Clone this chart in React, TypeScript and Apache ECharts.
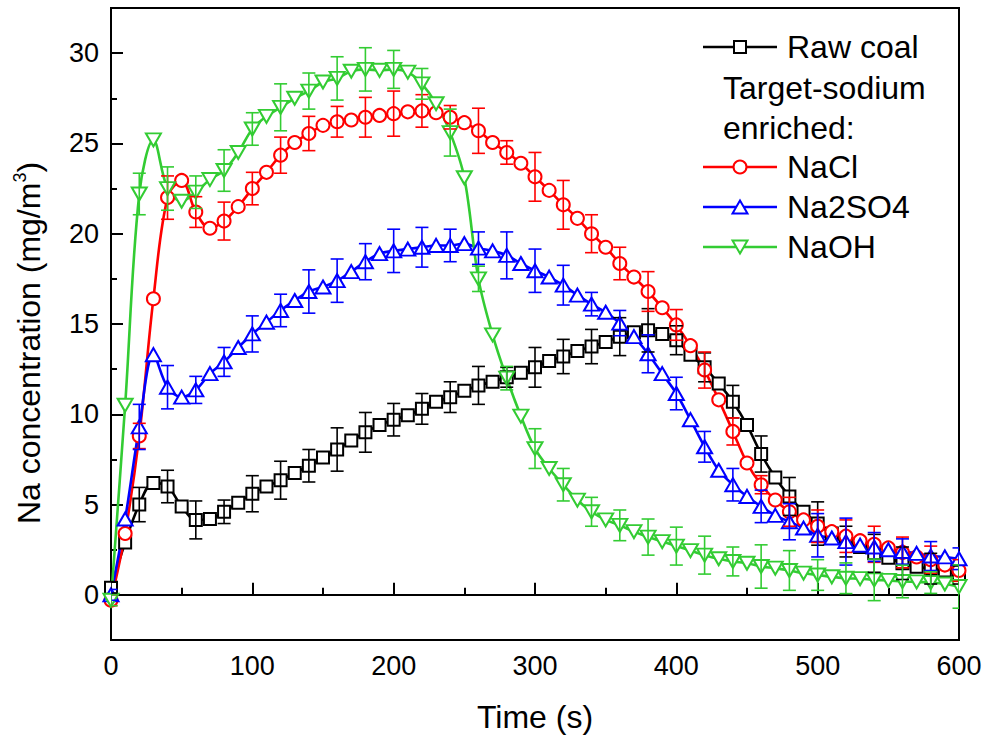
import React, { useEffect, useRef } from "react";
import * as echarts from "echarts";

const times = [0, 10, 20, 30, 40, 50, 60, 70, 80, 90, 100, 110, 120, 130, 140, 150, 160, 170, 180, 190, 200, 210, 220, 230, 240, 250, 260, 270, 280, 290, 300, 310, 320, 330, 340, 350, 360, 370, 380, 390, 400, 410, 420, 430, 440, 450, 460, 470, 480, 490, 500, 510, 520, 530, 540, 550, 560, 570, 580, 590, 600];

const rawCoal = [0.4, 2.9, 5.0, 6.2, 6.0, 4.9, 4.15, 4.2, 4.6, 5.1, 5.6, 6.0, 6.35, 6.75, 7.15, 7.6, 8.05, 8.55, 9.0, 9.4, 9.7, 9.95, 10.3, 10.7, 10.95, 11.3, 11.6, 11.8, 12.05, 12.3, 12.6, 12.95, 13.2, 13.5, 13.75, 14.0, 14.3, 14.55, 14.65, 14.45, 14.1, 13.3, 12.6, 11.7, 10.7, 9.4, 7.8, 6.5, 5.45, 4.6, 3.95, 3.4, 2.95, 2.65, 2.3, 2.05, 1.75, 1.55, 1.45, 1.35, 1.1];
const naCl = [-0.3, 3.4, 8.8, 16.4, 22.0, 22.95, 21.2, 20.3, 20.7, 21.5, 22.5, 23.4, 24.35, 25.05, 25.55, 26.0, 26.2, 26.3, 26.45, 26.55, 26.65, 26.75, 26.8, 26.7, 26.45, 26.15, 25.7, 25.05, 24.5, 23.9, 23.15, 22.4, 21.6, 20.85, 20.0, 19.25, 18.35, 17.6, 16.8, 15.9, 14.95, 13.8, 12.45, 10.8, 9.05, 7.3, 6.1, 5.25, 4.6, 4.15, 3.8, 3.5, 3.25, 3.0, 2.8, 2.6, 2.35, 2.1, 1.95, 1.65, 1.35];
const na2so4 = [0.0, 4.2, 9.3, 13.3, 11.5, 10.95, 11.35, 12.25, 12.9, 13.7, 14.45, 15.1, 15.75, 16.3, 16.8, 17.05, 17.4, 17.9, 18.45, 18.9, 19.05, 19.15, 19.25, 19.35, 19.35, 19.45, 19.2, 19.05, 18.8, 18.35, 17.95, 17.6, 17.15, 16.6, 16.1, 15.65, 15.05, 14.3, 13.35, 12.25, 11.15, 9.7, 8.2, 6.9, 6.1, 5.45, 4.9, 4.4, 4.05, 3.7, 3.3, 3.15, 2.95, 2.75, 2.65, 2.5, 2.4, 2.3, 2.15, 2.1, 2.0];
const naOH = [-0.3, 10.5, 22.2, 25.2, 22.5, 21.8, 22.3, 23.0, 23.5, 24.5, 25.8, 26.5, 27.0, 27.5, 27.9, 28.4, 28.6, 29.0, 29.1, 29.05, 29.1, 28.95, 28.3, 27.2, 25.6, 23.1, 17.5, 14.4, 12.0, 9.9, 8.1, 7.0, 6.1, 5.25, 4.6, 4.15, 3.85, 3.5, 3.2, 2.95, 2.7, 2.45, 2.2, 2.0, 1.85, 1.75, 1.57, 1.48, 1.35, 1.2, 1.1, 1.0, 0.92, 0.9, 0.83, 0.8, 0.74, 0.72, 0.68, 0.6, 0.46];

// error bars at every other time point (0, 20, 40, ... 600)
const rawCoalErr = [0.3, 0.95, 0.9, 1.05, 0.65, 1.0, 1.05, 0.9, 1.2, 1.1, 0.9, 0.85, 0.85, 1.05, 0.55, 1.1, 0.95, 0.95, 1.05, 1.2, 0.8, 0.8, 0.9, 1.0, 1.05, 1.2, 0.85, 1.05, 0.9, 0.85, 0.5];
const naClErr = [0.3, 0.7, 1.2, 0.85, 1.05, 0.9, 1.0, 0.95, 0.85, 1.1, 1.25, 0.9, 0.65, 1.25, 0.65, 1.35, 1.35, 1.05, 0.9, 1.1, 0.85, 1.0, 0.75, 0.5, 0.8, 0.9, 0.9, 1.0, 0.85, 0.75, 0.6];
const na2so4Err = [0.3, 1.25, 1.2, 0.75, 0.8, 1.0, 0.9, 1.2, 1.2, 1.0, 1.2, 1.1, 0.9, 0.9, 1.3, 1.2, 1.1, 0.65, 0.7, 1.05, 0.9, 0.85, 0.9, 0.9, 1.0, 1.2, 1.3, 0.8, 0.7, 0.8, 0.6];
const naOHErr = [0.3, 1.15, 1.2, 0.9, 1.15, 0.9, 1.3, 1.0, 1.2, 1.2, 1.05, 0.85, 1.3, 0.7, 0.65, 1.1, 0.9, 0.8, 0.85, 1.0, 1.05, 1.05, 0.8, 1.2, 1.1, 0.85, 0.85, 1.15, 0.9, 0.6, 1.2];

const seriesNames = ["Raw coal", "NaCl", "Na2SO4", "NaOH"];
const xTicks = [0, 100, 200, 300, 400, 500, 600];
const xMinorTicks = [50, 150, 250, 350, 450, 550];
const yTicks = [0, 5, 10, 15, 20, 25, 30];
const yMinorTicks = [2.5, 7.5, 12.5, 17.5, 22.5, 27.5];

const FONT = "'Liberation Sans', Arial, sans-serif";
const BLACK = "#000000";
const RED = "#ff0000";
const BLUE = "#0000ff";
const GREEN = "#33cc33";

function errData(vals: number[], errs: number[]) {
  const out: number[][] = [];
  errs.forEach((e, i) => {
    const t = times[i * 2];
    const v = vals[i * 2];
    out.push([t, v - e, v + e]);
  });
  return out;
}

function errSeries(vals: number[], errs: number[], color: string) {
  return {
    type: "custom",
    xAxisIndex: 0,
    yAxisIndex: 0,
    z: 3,
    clip: true,
    data: errData(vals, errs),
    encode: { x: 0, y: [1, 2] },
    renderItem: (params: any, api: any) => {
      const x = api.value(0);
      const lo = api.coord([x, api.value(1)]);
      const hi = api.coord([x, api.value(2)]);
      const w = 6.5;
      const st = { stroke: color, lineWidth: 1.6 };
      return {
        type: "group",
        children: [
          { type: "line", shape: { x1: lo[0], y1: lo[1], x2: hi[0], y2: hi[1] }, style: st },
          { type: "line", shape: { x1: lo[0] - w, y1: lo[1], x2: lo[0] + w, y2: lo[1] }, style: st },
          { type: "line", shape: { x1: hi[0] - w, y1: hi[1], x2: hi[0] + w, y2: hi[1] }, style: st },
        ],
      };
    },
  };
}

function lineSeries(name: string, vals: number[], color: string, symbol: string, size: any, rotate = 0) {
  return {
    name,
    type: "line",
    xAxisIndex: 0,
    yAxisIndex: 0,
    z: 2,
    data: vals.map((v, i) => [times[i], v]),
    smooth: 0.35,
    symbol,
    symbolSize: size,
    symbolRotate: rotate,
    showAllSymbol: true,
    lineStyle: { color, width: 2.6 },
    itemStyle: { color, borderColor: color, borderWidth: 2 },
  };
}

function legendItem(y: number, color: string, marker: any, label: string) {
  return [
    { type: "line", shape: { x1: 703, y1: y, x2: 777, y2: y }, style: { stroke: color, lineWidth: 2.6 }, z: 10 },
    { ...marker, z: 11 },
    {
      type: "text",
      x: 787,
      y,
      z: 11,
      style: { text: label, font: `32px ${FONT}`, fill: "#000", verticalAlign: "middle", align: "left" },
    },
  ];
}

export default function App() {
  const ref = useRef<HTMLDivElement>(null);
  useEffect(() => {
    document.body.style.margin = "0";
    if (!ref.current) return;
    const chart = echarts.init(ref.current, undefined, { renderer: "svg" });
    const axisCommon = {
      type: "value",
      gridIndex: 0,
    };
    const option: any = {
      animation: false,
      backgroundColor: "#ffffff",
      grid: { left: 111, right: 28, top: 8, bottom: 102, show: true, borderColor: "#000", borderWidth: 2, backgroundColor: "transparent" },
      xAxis: [
        {
          ...axisCommon,
          position: "bottom",
          min: 0,
          max: 600,
          interval: 100,
          axisLine: { show: true, lineStyle: { color: "#000", width: 2 } },
          axisTick: { show: true, inside: true, length: 12, customValues: xTicks, lineStyle: { color: "#000", width: 2 } },
          axisLabel: { show: true, customValues: xTicks, fontSize: 27, fontFamily: FONT, color: "#000", margin: 12 },
          splitLine: { show: false },
        },
        {
          ...axisCommon,
          position: "bottom",
          offset: 0,
          min: 0,
          max: 600,
          interval: 50,
          axisLine: { show: false },
          axisTick: { show: true, inside: true, length: 7, customValues: xMinorTicks, lineStyle: { color: "#000", width: 2 } },
          axisLabel: { show: false },
          splitLine: { show: false },
        },
      ],
      yAxis: [
        {
          ...axisCommon,
          position: "left",
          min: -2.5,
          max: 32.5,
          interval: 2.5,
          axisLine: { show: true, lineStyle: { color: "#000", width: 2 } },
          axisTick: { show: true, inside: true, length: 12, customValues: yTicks, lineStyle: { color: "#000", width: 2 } },
          axisLabel: { show: true, customValues: yTicks, fontSize: 27, fontFamily: FONT, color: "#000", margin: 12 },
          splitLine: { show: false },
        },
        {
          ...axisCommon,
          position: "left",
          offset: 0,
          min: -2.5,
          max: 32.5,
          interval: 2.5,
          axisLine: { show: false },
          axisTick: { show: true, inside: true, length: 6, customValues: yMinorTicks, lineStyle: { color: "#000", width: 2 } },
          axisLabel: { show: false },
          splitLine: { show: false },
        },
      ],
      series: [
        lineSeries(seriesNames[0], rawCoal, BLACK, "emptyRect", 12),
        errSeries(rawCoal, rawCoalErr, BLACK),
        lineSeries(seriesNames[1], naCl, RED, "emptyCircle", 13),
        errSeries(naCl, naClErr, RED),
        lineSeries(seriesNames[2], na2so4, BLUE, "emptyTriangle", [15, 13]),
        errSeries(na2so4, na2so4Err, BLUE),
        lineSeries(seriesNames[3], naOH, GREEN, "emptyTriangle", [15, 13], 180),
        errSeries(naOH, naOHErr, GREEN),
      ],
      graphic: [
        ...legendItem(47, BLACK, { type: "rect", shape: { x: 734, y: 41, width: 12, height: 12 }, style: { fill: "#fff", stroke: BLACK, lineWidth: 2 } }, seriesNames[0]),
        { type: "text", x: 723, y: 88, z: 11, style: { text: "Target-sodium", font: `32px ${FONT}`, fill: "#000", verticalAlign: "middle", align: "left" } },
        { type: "text", x: 723, y: 128, z: 11, style: { text: "enriched:", font: `32px ${FONT}`, fill: "#000", verticalAlign: "middle", align: "left" } },
        ...legendItem(167, RED, { type: "circle", shape: { cx: 740, cy: 167, r: 6.5 }, style: { fill: "#fff", stroke: RED, lineWidth: 2 } }, seriesNames[1]),
        ...legendItem(207, BLUE, { type: "polygon", shape: { points: [[732.5, 213.5], [747.5, 213.5], [740, 200.5]] }, style: { fill: "#fff", stroke: BLUE, lineWidth: 2 } }, seriesNames[2]),
        ...legendItem(247, GREEN, { type: "polygon", shape: { points: [[732.5, 240.5], [747.5, 240.5], [740, 253.5]] }, style: { fill: "#fff", stroke: GREEN, lineWidth: 2 } }, seriesNames[3]),
        {
          type: "text",
          x: 535,
          y: 717,
          z: 11,
          style: { text: "Time (s)", font: `32px ${FONT}`, fill: "#000", verticalAlign: "middle", align: "center" },
        },
        {
          type: "text",
          x: 29,
          y: 343,
          rotation: Math.PI / 2,
          z: 11,
          style: {
            text: "{m|Na concentration (mg/m}{s|3}{m|)}",
            align: "center",
            verticalAlign: "middle",
            fill: "#000",
            rich: {
              m: { fontSize: 32, fontFamily: FONT, lineHeight: 36, verticalAlign: "middle", fill: "#000" },
              s: { fontSize: 18, fontFamily: FONT, lineHeight: 16, verticalAlign: "top", fill: "#000" },
            },
          },
        },
      ],
    };
    chart.setOption(option);
    return () => chart.dispose();
  }, []);
  return <div ref={ref} style={{ width: 987, height: 742 }} />;
}
